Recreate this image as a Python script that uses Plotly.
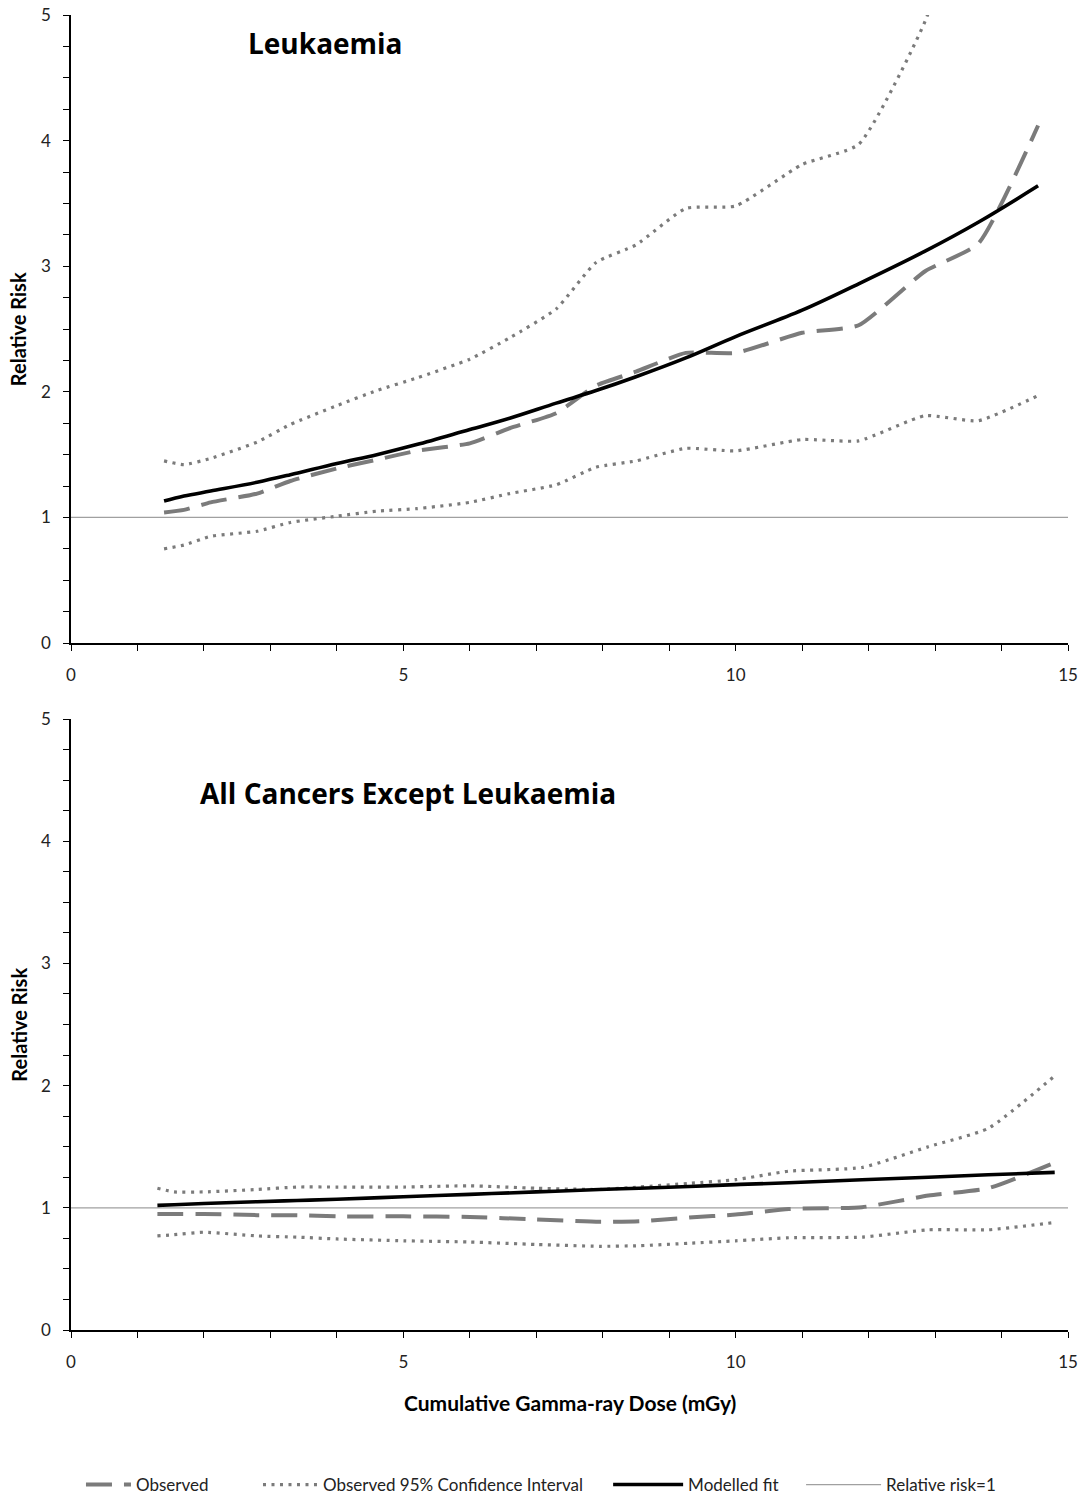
import plotly.graph_objects as go

# ---------------- Data ----------------
# Leukaemia panel
x_leuk = [1.4, 1.7, 2.1, 2.8, 3.3, 4.0, 4.6, 5.2, 6.0, 6.6, 7.3, 7.9, 8.5, 9.25, 10.0, 11.0, 11.85, 12.85, 13.65, 14.55]
obs_leuk = [1.04, 1.06, 1.12, 1.19, 1.29, 1.39, 1.46, 1.53, 1.59, 1.71, 1.83, 2.05, 2.16, 2.31, 2.31, 2.47, 2.53, 2.96, 3.18, 4.12]
upper_leuk = [1.45, 1.42, 1.47, 1.60, 1.74, 1.89, 2.01, 2.11, 2.26, 2.43, 2.66, 3.03, 3.17, 3.46, 3.48, 3.81, 3.97, 4.95, 6.30, 8.00]
lower_leuk = [0.75, 0.78, 0.85, 0.89, 0.96, 1.01, 1.05, 1.07, 1.12, 1.19, 1.26, 1.40, 1.45, 1.55, 1.53, 1.62, 1.61, 1.81, 1.77, 1.97]
fit_leuk = [1.13, 1.17, 1.21, 1.28, 1.34, 1.43, 1.50, 1.58, 1.70, 1.79, 1.91, 2.01, 2.12, 2.27, 2.44, 2.65, 2.86, 3.12, 3.35, 3.64]

# All cancers except leukaemia panel
x_all = [1.3, 1.55, 2.0, 2.8, 3.4, 4.0, 5.0, 6.0, 7.0, 7.95, 8.55, 9.3, 10.0, 10.8, 11.9, 12.9, 13.8, 14.8]
obs_all = [0.95, 0.95, 0.95, 0.94, 0.94, 0.93, 0.93, 0.925, 0.905, 0.885, 0.89, 0.92, 0.945, 0.99, 1.005, 1.10, 1.16, 1.37]
upper_all = [1.16, 1.13, 1.13, 1.15, 1.17, 1.17, 1.17, 1.18, 1.16, 1.15, 1.17, 1.20, 1.23, 1.30, 1.33, 1.50, 1.65, 2.08]
lower_all = [0.77, 0.78, 0.80, 0.77, 0.76, 0.745, 0.73, 0.72, 0.70, 0.685, 0.69, 0.71, 0.73, 0.755, 0.76, 0.82, 0.82, 0.88]
fit_all = [1.02, 1.025, 1.035, 1.05, 1.06, 1.07, 1.09, 1.11, 1.13, 1.15, 1.16, 1.175, 1.19, 1.205, 1.23, 1.25, 1.27, 1.29]

x_ticks = [0, 5, 10, 15]
y_ticks = [0, 1, 2, 3, 4, 5]

panel_titles = ["Leukaemia", "All Cancers Except Leukaemia"]
legend_names = ["Observed", "Observed 95% Confidence Interval", "Modelled fit", "Relative risk=1"]

# ---------------- Styles ----------------
GREY = "#7b7b7b"
FONT = "Lato, Open Sans, sans-serif"
BOLDF = "Open Sans, DejaVu Sans, sans-serif"
DASH = "26px,12px"
DOT = "3px,5.5px"

fig = go.Figure()

panels = [
    ("x", "y", x_leuk, obs_leuk, upper_leuk, lower_leuk, fit_leuk),
    ("x2", "y2", x_all, obs_all, upper_all, lower_all, fit_all),
]

for i, (xa, ya, xs, obs, up, lo, fit) in enumerate(panels):
    first = i == 0
    fig.add_trace(go.Scatter(x=[0, 15], y=[1, 1], mode="lines", xaxis=xa, yaxis=ya,
                             line=dict(color="#a0a0a0", width=1.3),
                             name=legend_names[3], showlegend=first, legend="legend4"))
    fig.add_trace(go.Scatter(x=xs, y=up, mode="lines", xaxis=xa, yaxis=ya,
                             line=dict(color=GREY, width=3.2, dash=DOT, shape="spline", smoothing=0.5),
                             name=legend_names[1], showlegend=first, legend="legend2"))
    fig.add_trace(go.Scatter(x=xs, y=lo, mode="lines", xaxis=xa, yaxis=ya,
                             line=dict(color=GREY, width=3.2, dash=DOT, shape="spline", smoothing=0.5),
                             name=legend_names[1], showlegend=False, legend="legend2"))
    fig.add_trace(go.Scatter(x=xs, y=obs, mode="lines", xaxis=xa, yaxis=ya,
                             line=dict(color=GREY, width=4, dash=DASH, shape="spline", smoothing=0.5),
                             name=legend_names[0], showlegend=first, legend="legend"))
    fig.add_trace(go.Scatter(x=xs, y=fit, mode="lines", xaxis=xa, yaxis=ya,
                             line=dict(color="black", width=3.6, shape="spline", smoothing=1),
                             name=legend_names[2], showlegend=first, legend="legend3"))

axis_common = dict(showline=True, linecolor="black", linewidth=1.5, ticks="outside",
                   ticklen=6, tickwidth=1.3, tickcolor="black", showgrid=False, zeroline=False,
                   tickfont=dict(family=FONT, size=17, color="#222"))

for xa, ya, dom, anchor_x, anchor_y in [("xaxis", "yaxis", [0.5224, 1.0], "y", "x"),
                                        ("xaxis2", "yaxis2", [0.0, 0.4646], "y2", "x2")]:
    fig.layout[xa] = dict(axis_common, range=[0, 15], tickvals=x_ticks, anchor=anchor_x,
                          domain=[0, 1], ticklabelstandoff=10,
                          minor=dict(dtick=1, ticks="outside", ticklen=6, tickwidth=1.3, tickcolor="black"))
    fig.layout[ya] = dict(axis_common, range=[0, 5], tickvals=y_ticks, anchor=anchor_y,
                          domain=dom, ticklabelstandoff=9,
                          minor=dict(dtick=0.25, ticks="outside", ticklen=6, tickwidth=1.3, tickcolor="black"))

annotations = [
    dict(text="<b>%s</b>" % panel_titles[0], x=0.2548, y=0.9787, xref="paper", yref="paper",
         xanchor="center", yanchor="middle",
         showarrow=False, font=dict(family=BOLDF, size=28, color="black")),
    dict(text="<b>%s</b>" % panel_titles[1], x=0.338, y=0.408, xref="paper", yref="paper",
         xanchor="center", yanchor="middle",
         showarrow=False, font=dict(family=BOLDF, size=28, color="black")),
    dict(text="<b>Relative Risk</b>", x=-0.053, y=0.7612, xref="paper", yref="paper",
         xanchor="center", yanchor="middle",
         textangle=-90, showarrow=False, font=dict(family=FONT, size=20, color="black")),
    dict(text="<b>Relative Risk</b>", x=-0.053, y=0.2323, xref="paper", yref="paper",
         xanchor="center", yanchor="middle",
         textangle=-90, showarrow=False, font=dict(family=FONT, size=20, color="black")),
    dict(text="<b>Cumulative Gamma-ray Dose (mGy)</b>", x=0.5005, y=-0.0548, xref="paper", yref="paper",
         xanchor="center", yanchor="middle",
         showarrow=False, font=dict(family=FONT, size=21, color="black")),
]

leg_common = dict(orientation="h", xref="container", yref="container", y=0.008, yanchor="middle",
                  xanchor="left", font=dict(family=FONT, size=17, color="#222"),
                  bgcolor="rgba(0,0,0,0)", tracegroupgap=0)

fig.update_layout(
    width=1084, height=1497,
    margin=dict(l=71, r=16, t=15, b=167, autoexpand=False),
    paper_bgcolor="white", plot_bgcolor="white",
    showlegend=True,
    legend=dict(leg_common, x=0.0747, itemwidth=45),
    legend2=dict(leg_common, x=0.238, itemwidth=55),
    legend3=dict(leg_common, x=0.561, itemwidth=70),
    legend4=dict(leg_common, x=0.739, itemwidth=75),
    annotations=annotations,
)

fig.write_html("out.html", config={"displayModeBar": False},
               post_script="document.body.style.margin='0';document.body.style.overflow='hidden';")
